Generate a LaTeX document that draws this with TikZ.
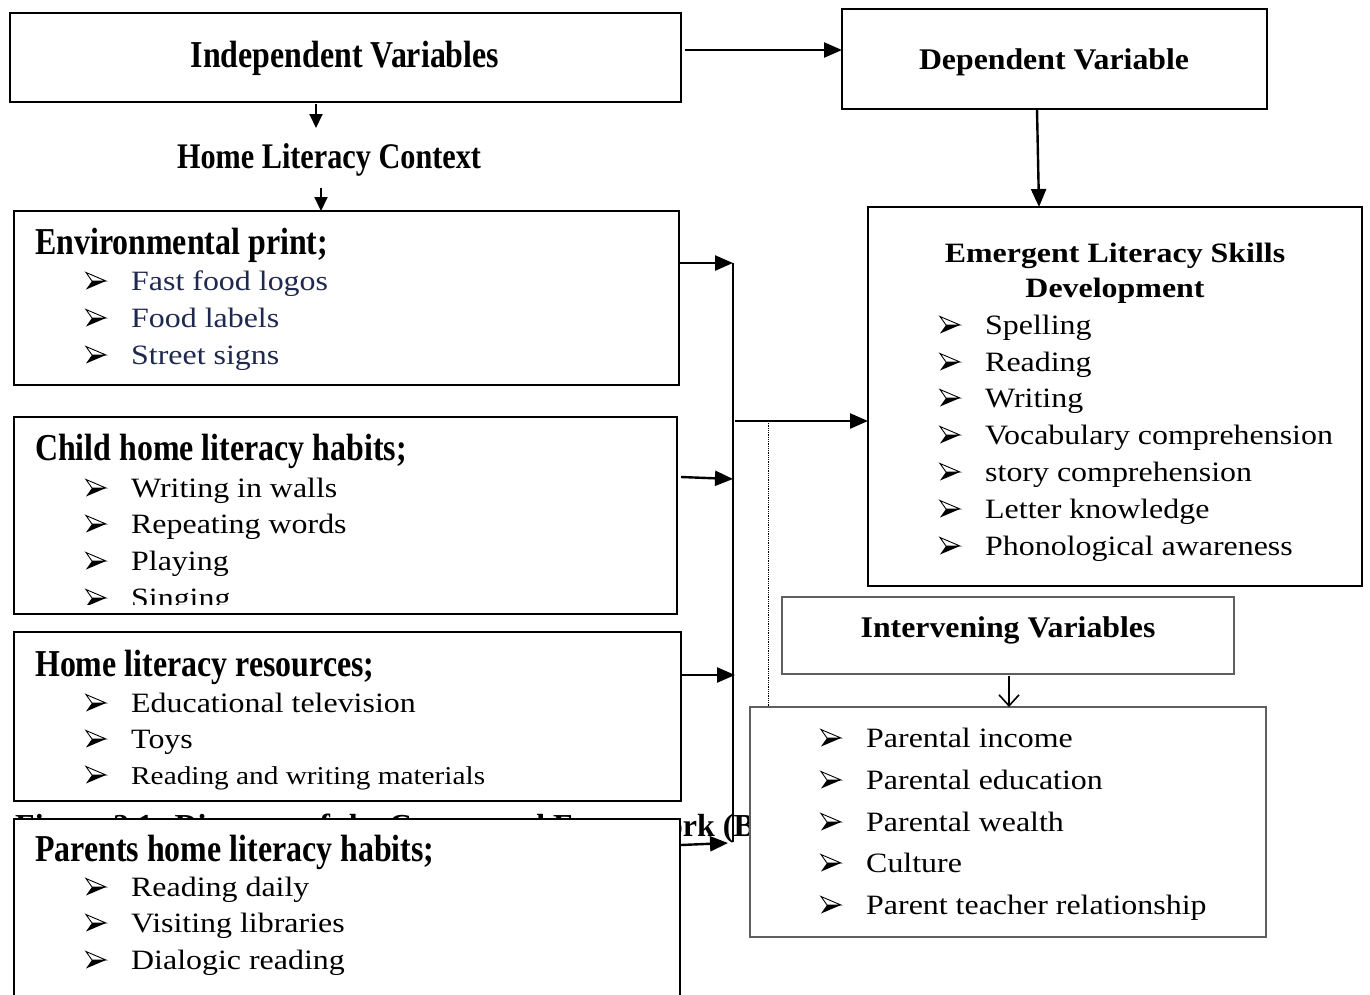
\documentclass[tikz,border=0pt]{standalone}
\usepackage{fontspec}
\setmainfont{Liberation Serif}[FakeStretch=1.14]
\newfontfamily\hfont{Liberation Serif}[FakeStretch=0.84]
\newfontfamily\mfont{Liberation Serif}[FakeStretch=1.06]
\newfontfamily\cfont{Liberation Serif}
\usetikzlibrary{arrows.meta}
\definecolor{navy}{RGB}{31,40,80}
\definecolor{boxgray}{RGB}{95,95,95}
\newcommand\bitem[5]{%
  \pic at (#2-45,#3-9) {bul};
  \node[#4] (#1) at (#2,#3) {#5};}
\tikzset{
 blk/.style={draw=black, line width=2pt, fill=white, inner sep=0pt, outer sep=0pt, anchor=north west},
 gbox/.style={draw=boxgray, line width=1.2pt, fill=white, inner sep=0pt, outer sep=0pt, anchor=north west},
 itm/.style={inner sep=0pt, anchor=base west, font=\fontsize{28}{34}\selectfont},
 sitm/.style={inner sep=0pt, anchor=base west, font=\fontsize{25.7}{31}\selectfont},
 hd/.style={inner sep=0pt, anchor=base west, font=\hfont\fontsize{38}{44}\selectfont\bfseries},
 mhd/.style={inner sep=0pt, anchor=base, font=\mfont\fontsize{30}{36}\selectfont\bfseries},
 conn/.style={line width=2.4pt, -{Triangle[length=18pt,width=15pt]}},
 sconn/.style={line width=2pt, -{Triangle[length=14pt,width=13pt]}},
 oconn/.style={draw=black, line width=1.6pt, -{Straight Barb[length=11pt,width=20pt]}},
 bul/.pic={
   \draw[line width=0.9pt, fill=white, line join=miter] (20,0) -- (0,-8.5) -- (6,0) -- cycle;
   \fill (20,0) -- (6,0) -- (0,8.5) -- cycle;
 }
}
\begin{document}
\begin{tikzpicture}[x=1pt,y=-1pt]
\useasboundingbox (0,0) rectangle (1370,994);
\clip (0,0) rectangle (1370,994);

% partly hidden caption (beneath the boxes)
\node[inner sep=0pt, anchor=base west, font=\cfont\fontsize{32}{38}\selectfont\bfseries] (cap) at (15,836)
  {Figure 2.1: Diagram of the Conceptual Framework (B};

% boxes
\node[blk, minimum width=671pt, minimum height=89pt] (indep) at (10,13) {};
\node[blk, minimum width=425pt, minimum height=100pt] (dep) at (842,9) {};
\node[blk, minimum width=665pt, minimum height=174pt] (env) at (14,211) {};
\node[blk, minimum width=663pt, minimum height=197pt] (child) at (14,417) {};
\node[blk, minimum width=667pt, minimum height=169pt] (res) at (14,632) {};
\node[blk, minimum width=666pt, minimum height=200pt] (par) at (14,819) {};
\node[blk, minimum width=494pt, minimum height=379pt] (emg) at (868,207) {};
\node[gbox, minimum width=452pt, minimum height=77pt] (intv) at (782,597) {};
\node[gbox, minimum width=516pt, minimum height=230pt] (intl) at (750,707) {};

% headings
\node[inner sep=0pt, anchor=base, font=\hfont\fontsize{38}{44}\selectfont\bfseries] (tind) at (345,67) {Independent Variables};
\node[mhd] (tdep) at (1054,69) {Dependent Variable};
\node[inner sep=0pt, anchor=base, font=\hfont\fontsize{36}{42}\selectfont\bfseries] (hlc) at (329,168) {Home Literacy Context};
\node[mhd] (tint) at (1008,637) {Intervening Variables};

% environmental print
\node[hd] (henv) at (35,254) {Environmental print;};
\bitem{e1}{131}{290}{itm, text=navy}{Fast food logos}
\bitem{e2}{131}{327}{itm, text=navy}{Food labels}
\bitem{e3}{131}{364}{itm, text=navy}{Street signs}

% child habits
\node[hd] (hchild) at (35,460) {Child home literacy habits;};
\begin{scope}
\clip (14,417) rectangle (677,604);
\bitem{c1}{131}{497}{itm}{Writing in walls}
\bitem{c2}{131}{533}{itm}{Repeating words}
\bitem{c3}{131}{570}{itm}{Playing}
\bitem{c4}{131}{607}{itm}{Singing}
\end{scope}

% resources
\node[hd] (hres) at (35,676) {Home literacy resources;};
\bitem{r1}{131}{712}{itm}{Educational television}
\bitem{r2}{131}{748}{itm}{Toys}
\bitem{r3}{131}{784}{sitm}{Reading and writing materials}

% parents
\node[hd] (hpar) at (35,861) {Parents home literacy habits;};
\bitem{p1}{131}{896}{itm}{Reading daily}
\bitem{p2}{131}{932}{itm}{Visiting libraries}
\bitem{p3}{131}{969}{itm}{Dialogic reading}

% emergent literacy
\node[inner sep=0pt, anchor=base, font=\fontsize{28}{34}\selectfont\bfseries] (hemg1) at (1115,262) {Emergent Literacy Skills};
\node[inner sep=0pt, anchor=base, font=\fontsize{28}{34}\selectfont\bfseries] (hemg2) at (1115,297) {Development};
\bitem{m1}{985}{334}{itm}{Spelling}
\bitem{m2}{985}{371}{itm}{Reading}
\bitem{m3}{985}{407}{itm}{Writing}
\bitem{m4}{985}{444}{itm}{Vocabulary comprehension}
\bitem{m5}{985}{481}{itm}{story comprehension}
\bitem{m6}{985}{518}{itm}{Letter knowledge}
\bitem{m7}{985}{555}{itm}{Phonological awareness}

% intervening list
\bitem{i1}{866}{747}{itm}{Parental income}
\bitem{i2}{866}{789}{itm}{Parental education}
\bitem{i3}{866}{831}{itm}{Parental wealth}
\bitem{i4}{866}{872}{itm}{Culture}
\bitem{i5}{866}{914}{itm}{Parent teacher relationship}

% connectors
\coordinate (a0) at (685,50);
\draw[conn] (a0) -- (dep.west |- a0);
\coordinate (d0) at (1037,109);
\coordinate (d1) at (1039,207);
\draw[conn] (d0) -- (d1);

\coordinate (s0) at (316,104);
\coordinate (s1) at (316,128);
\draw[sconn] (s0) -- (s1);
\coordinate (s2) at (321,188);
\draw[sconn] (s2) -- (s2 |- env.north);

\coordinate (bt) at (733,263);
\coordinate (bb) at (733,842);
\draw[line width=2.4pt] (bt) -- (bb);
\draw[conn] (env.east |- bt) -- (bt);
\coordinate (bc0) at (681,477);
\coordinate (bc1) at (733,479);
\draw[conn] (bc0) -- (bc1);
\coordinate (br1) at (735,675);
\draw[conn] (res.east |- br1) -- (br1);
\coordinate (bp0) at (681,845);
\coordinate (bp1) at (728,843);
\draw[conn] (bp0) -- (bp1);
\coordinate (bm) at (735,421);
\draw[conn] (bm) -- (emg.west |- bm);

\coordinate (dt) at (768,421);
\draw[line width=0.8pt, densely dotted] (dt) -- (dt |- intl.north);

\coordinate (o0) at (1009,676);
\draw[oconn] (o0) -- (o0 |- intl.north);
\end{tikzpicture}
\end{document}
